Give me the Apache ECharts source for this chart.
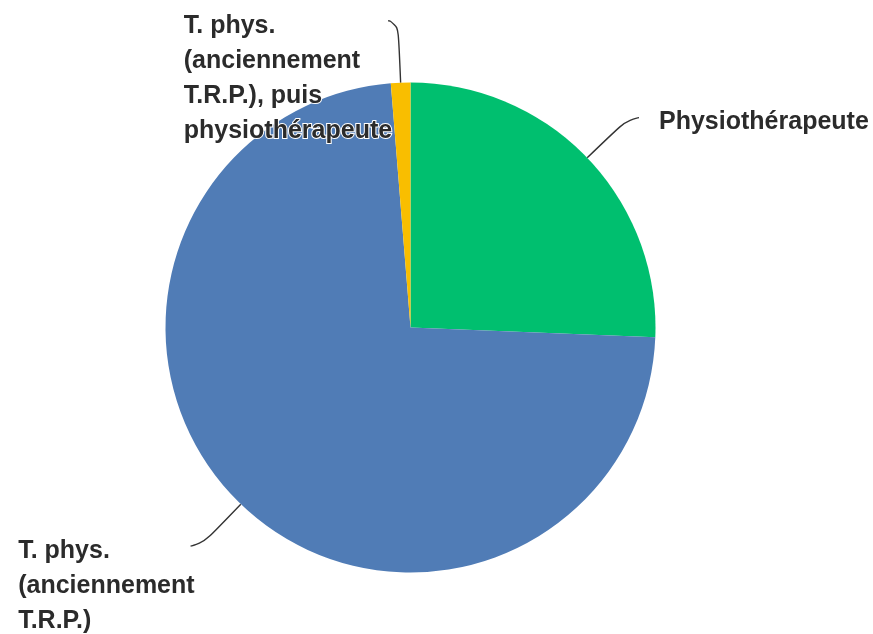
<!DOCTYPE html>
<html>
<head>
<meta charset="utf-8">
<script src="https://cdn.jsdelivr.net/npm/echarts@6/dist/echarts.min.js"></script>
<style>
  html, body { margin: 0; padding: 0; background: #fff; }
  #chart { width: 873px; height: 634px; }
</style>
</head>
<body>
<div id="chart"></div>
<script>
const categories = [
  "Physiothérapeute",
  "T. phys.\n(anciennement\nT.R.P.)",
  "T. phys.\n(anciennement\nT.R.P.), puis\nphysiothérapeute",
];
const counts = [20, 57, 1];
const colors = ["#00bf6f", "#507cb6", "#f9be00"];

const LINE_H = 35;

const chart = echarts.init(document.getElementById("chart"), null, { renderer: "canvas" });

function placeLabel(params) {
  const pts = params.labelLinePoints;
  if (!pts) {
    return {};
  }
  const end = pts[pts.length - 1];
  const prev = pts[pts.length - 2];
  const rect = params.labelRect;
  const onLeft = end[0] < prev[0];
  return {
    x: onLeft ? end[0] + 6 - rect.width : end[0] + 20,
    y: end[1] + 5 - LINE_H / 2,
    align: "left",
    verticalAlign: "top",
    labelLinePoints: pts,
  };
}

chart.setOption({
  backgroundColor: "#fff",
  animation: false,
  series: [
    {
      type: "pie",
      center: [410.5, 327.5],
      radius: 245,
      startAngle: 90,
      clockwise: true,
      avoidLabelOverlap: false,
      data: categories.map((name, i) => ({
        name: name,
        value: counts[i],
        itemStyle: { color: colors[i] },
        labelLine: i === 2 ? { length: 62, length2: 10 } : undefined,
      })),
      label: {
        show: true,
        position: "outside",
        formatter: "{b}",
        color: "#2b2b2b",
        fontFamily: "Liberation Sans",
        fontWeight: "bold",
        fontSize: 25,
        lineHeight: LINE_H,
        textBorderColor: "#ffffff",
        textBorderWidth: 2,
      },
      labelLine: {
        show: true,
        length: 58,
        length2: 10,
        smooth: 0.8,
        lineStyle: { color: "#333333", width: 1.4 },
      },
      labelLayout: placeLabel,
      emphasis: { disabled: true },
    },
  ],
});
</script>
</body>
</html>
